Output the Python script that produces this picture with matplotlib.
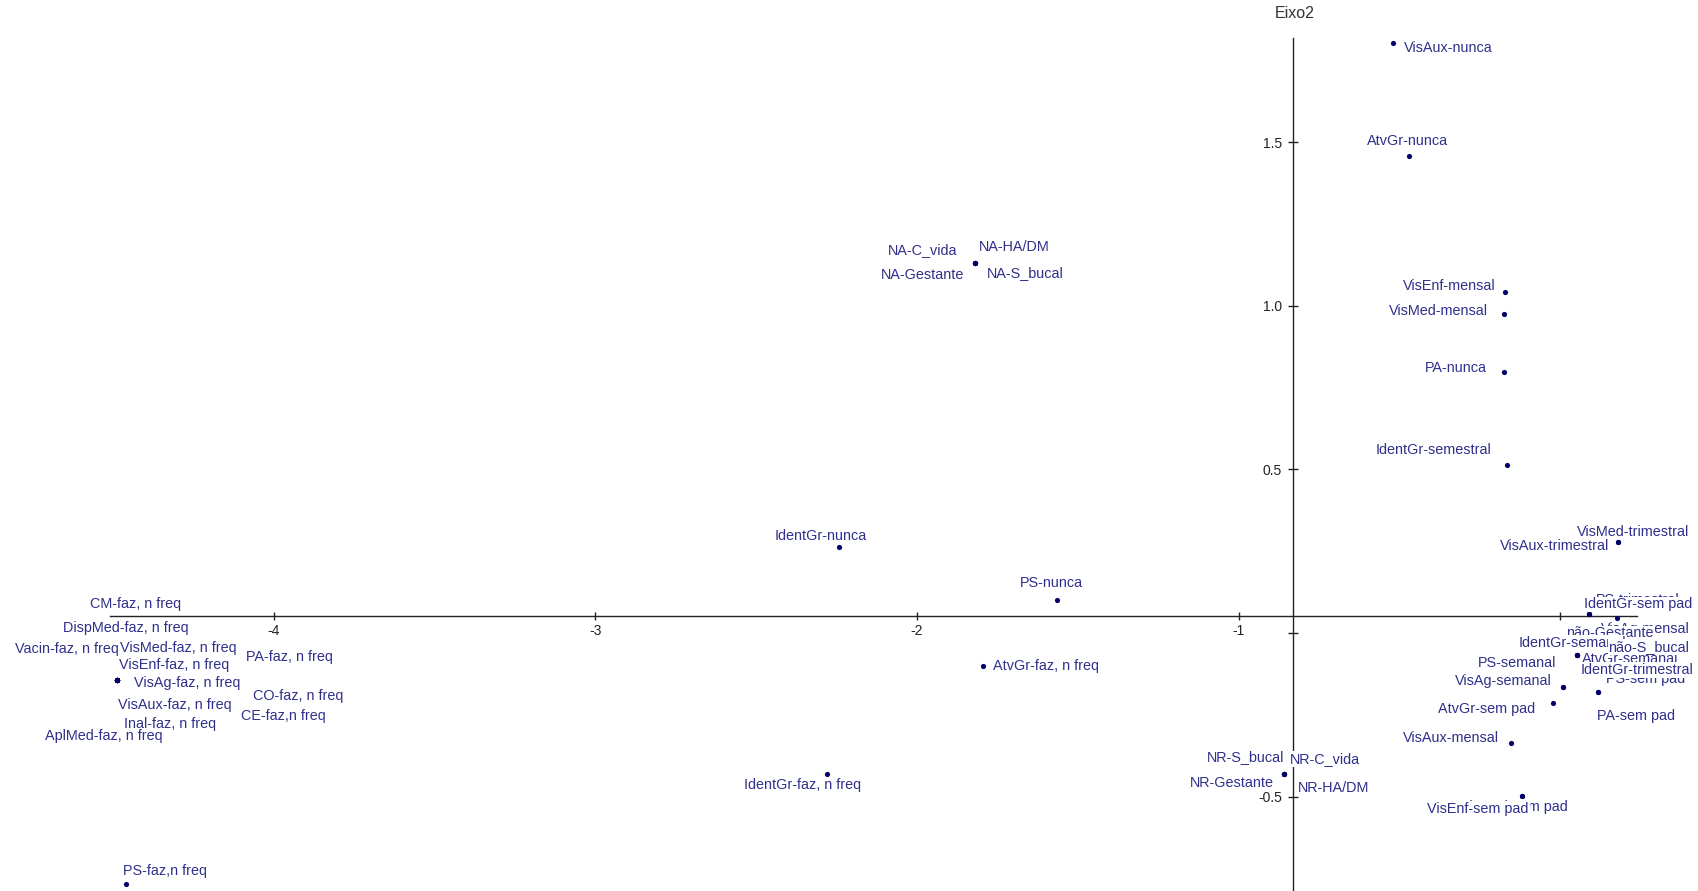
import matplotlib
matplotlib.use('Agg')
import matplotlib.pyplot as plt

plt.rcParams['font.family'] = ['Liberation Sans', 'DejaVu Sans']

# ---------------- data (coordinates on Eixo1 / Eixo2) ----------------
labels = [
    'VisAux-nunca', 'AtvGr-nunca',
    'NA-C_vida', 'NA-HA/DM', 'NA-Gestante', 'NA-S_bucal',
    'VisEnf-mensal', 'VisMed-mensal', 'PA-nunca', 'IdentGr-semestral',
    'VisMed-trimestral', 'VisAux-trimestral',
    'IdentGr-nunca', 'PS-nunca', 'AtvGr-faz, n freq', 'IdentGr-faz, n freq',
    'CM-faz, n freq', 'DispMed-faz, n freq', 'Vacin-faz, n freq', 'VisMed-faz, n freq',
    'PA-faz, n freq', 'VisEnf-faz, n freq', 'VisAg-faz, n freq', 'CO-faz, n freq',
    'VisAux-faz, n freq', 'CE-faz,n freq', 'Inal-faz, n freq', 'AplMed-faz, n freq',
    'PS-faz,n freq',
    'NR-S_bucal', 'NR-C_vida', 'NR-Gestante', 'NR-HA/DM',
    'VisAux-mensal', 'VisMed-sem pad', 'VisEnf-sem pad',
    'PS-trimestral', 'VisAg-mensal', 'IdentGr-sem pad', 'não-Gestante',
    'IdentGr-semanal', 'AtvGr-semanal', 'não-S_bucal', 'PS-sem pad',
    'IdentGr-trimestral', 'PS-semanal', 'VisAg-semanal', 'AtvGr-sem pad', 'PA-sem pad',
]
eixo1 = [
    -0.520, -0.469,
    -1.820, -1.820, -1.820, -1.820,
    -0.170, -0.173, -0.176, -0.164,
    0.181, 0.181,
    -2.242, -1.566, -1.794, -2.281,
    -4.489, -4.489, -4.489, -4.489,
    -4.489, -4.489, -4.489, -4.489,
    -4.489, -4.489, -4.489, -4.489,
    -4.460,
    -0.858, -0.858, -0.858, -0.858,
    -0.152, -0.119, -0.119,
    0.091, 0.178, 0.091, 0.091,
    0.054, 0.054, 0.054, 0.117,
    0.054, 0.010, 0.010, -0.021, 0.117,
]
eixo2 = [
    1.802, 1.457,
    1.131, 1.131, 1.131, 1.131,
    1.041, 0.974, 0.798, 0.513,
    0.279, 0.279,
    0.262, 0.101, -0.100, -0.430,
    -0.144, -0.144, -0.144, -0.144,
    -0.144, -0.144, -0.144, -0.144,
    -0.144, -0.144, -0.144, -0.144,
    -0.768,
    -0.431, -0.431, -0.431, -0.431,
    -0.337, -0.497, -0.497,
    0.057, 0.045, 0.057, 0.057,
    -0.067, -0.067, -0.067, -0.179,
    -0.067, -0.166, -0.166, -0.213, -0.179,
]

x_ticks = [-4, -3, -2, -1, 0]
x_tick_labels = ['-4', '-3', '-2', '-1', '']
y_ticks = [-0.5, 0.0, 0.5, 1.0, 1.5]
y_tick_labels = ['-0.5', '', '0.5', '1.0', '1.5']
axis_title = 'Eixo2'

# ---------------- layout (label offsets in pixels, alignment) ----------------
label_layout = [
    (11, -5, 'left'), (-2, 15, 'center'),
    (-18, 13, 'right'), (4, 16, 'left'), (-11, -12, 'right'), (12, -10, 'left'),
    (-10, 6, 'right'), (-17, 3, 'right'), (-17, 4, 'right'), (-16, 15, 'right'),
    (71, 10, 'right'), (-9, -4, 'right'),
    (-18, 11, 'center'), (-5, 17, 'center'), (10, 0, 'left'), (-24, -11, 'center'),
    (-27, 76, 'left'), (-54, 52, 'left'), (-102, 31, 'left'), (3, 32, 'left'),
    (129, 23, 'left'), (2, 15, 'left'), (17, -3, 'left'), (136, -16, 'left'),
    (1, -25, 'left'), (124, -36, 'left'), (7, -44, 'left'), (-72, -56, 'left'),
    (-3, 13, 'left'),
    (0, 17, 'right'), (6, 15, 'left'), (-10, -9, 'right'), (14, -14, 'left'),
    (-12, 5, 'right'), (46, -11, 'right'), (7, -13, 'right'),
    (7, 14, 'left'), (72, -11, 'right'), (-5, 10, 'left'), (-23, -19, 'left'),
    (-59, 12, 'left'), (5, -4, 'left'), (31, 8, 'left'), (8, 13, 'left'),
    (3, -15, 'left'), (-7, 24, 'right'), (-12, 6, 'right'), (-18, -6, 'right'), (-1, -24, 'left'),
]

text_color = '#30308c'
dot_color = '#000066'
axis_color = '#222222'

W, H, DPI = 1699, 891, 100
fig = plt.figure(figsize=(W / DPI, H / DPI), dpi=DPI)
ax = fig.add_axes([0, 0, 1, 1])
ax.set_xlim(-4.852, 0.432)
ax.set_ylim(-0.788, 1.934)

# axes crossing lines
yaxis_x = -0.831
xaxis_y = 0.052
for s in ['top', 'right']:
    ax.spines[s].set_visible(False)
ax.spines['left'].set_position(('data', yaxis_x))
ax.spines['bottom'].set_position(('data', xaxis_y))
ax.spines['left'].set_bounds(-0.80, 1.818)
ax.spines['bottom'].set_bounds(-4.51, 0.24)
for s in ['left', 'bottom']:
    ax.spines[s].set_color(axis_color)
    ax.spines[s].set_linewidth(1.0)
    ax.spines[s].set_zorder(1)

ax.set_xticks(x_ticks)
ax.set_xticklabels(x_tick_labels)
ax.set_yticks(y_ticks)
ax.set_yticklabels(y_tick_labels)
ax.tick_params(axis='x', direction='inout', length=6, width=1.0, pad=3,
               labelsize=10, colors=axis_color)
ax.tick_params(axis='y', direction='inout', length=6.5, width=1.0, pad=4.5,
               labelsize=10, colors=axis_color)
ax.patch.set_alpha(0)

ax.annotate(axis_title, xy=(yaxis_x, 1.818), xytext=(2, 24), textcoords='offset pixels',
            ha='center', va='center', fontsize=11.5, color='#333333')

# points
ax.scatter(eixo1, eixo2, s=14, color=dot_color, zorder=3, linewidths=0)

# labels with white boxes (drawn in order: later ones hide earlier ones)
for i, (lab, xv, yv) in enumerate(zip(labels, eixo1, eixo2)):
    dx, dy, ha = label_layout[i]
    ax.annotate(lab, xy=(xv, yv), xytext=(dx, dy), textcoords='offset pixels',
                ha=ha, va='center', fontsize=10.4, color=text_color, zorder=4 + i * 0.01,
                bbox=dict(boxstyle='square,pad=0.05', facecolor='white', edgecolor='none'))

fig.savefig('out.png', dpi=DPI)
